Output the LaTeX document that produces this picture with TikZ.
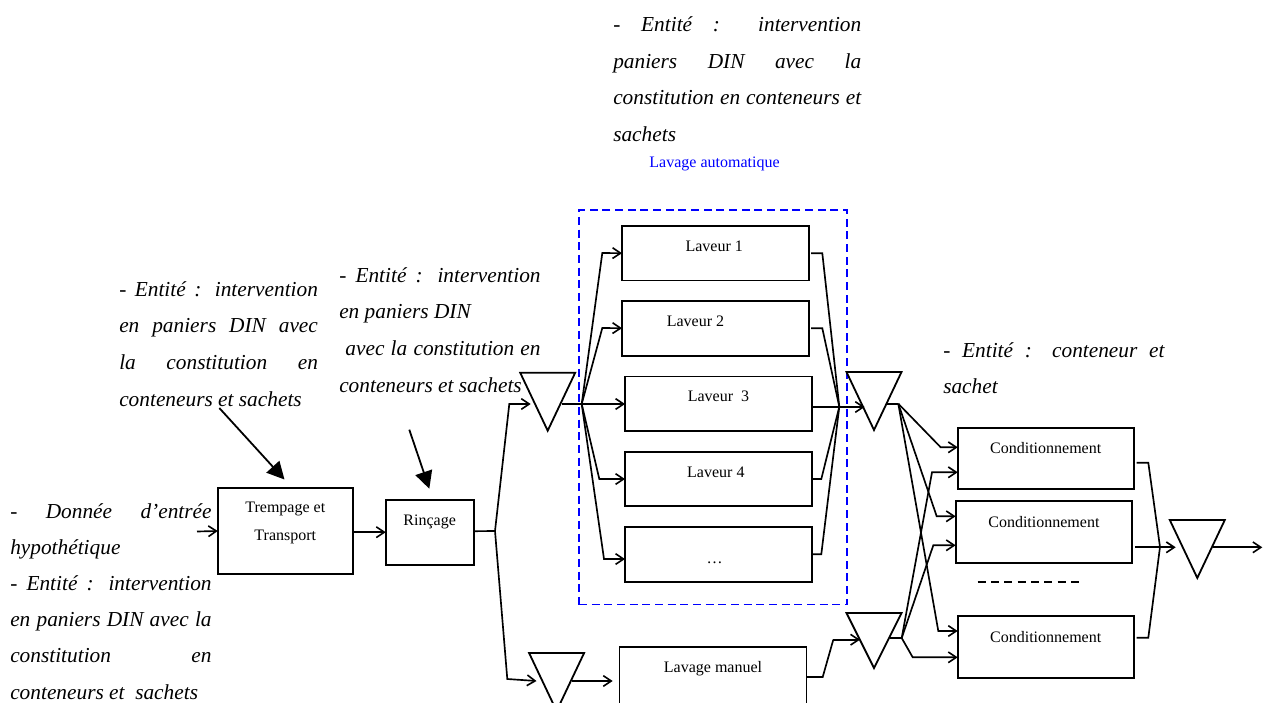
\documentclass[tikz,border=0pt]{standalone}
\usepackage{fontspec}
\setmainfont{Liberation Serif}
\usetikzlibrary{arrows.meta,shapes.geometric}
\tikzset{
  sz/.style 2 args={minimum width=#1*0.75pt, minimum height=#2*0.75pt},
  boxn/.style={draw, line width=1.35pt, inner sep=0pt, outer sep=0pt},
  tri/.style={draw, line width=1.35pt, isosceles triangle, isosceles triangle stretches, shape border rotate=-90, inner sep=0pt, outer sep=0pt, anchor=apex, minimum width=55*0.75pt, minimum height=58*0.75pt},
  lab/.style={font=\fontsize{12}{21}\selectfont, inner sep=0pt, align=center},
  arr/.style={line width=1.25pt, -{Straight Barb[length=6pt,width=8pt,line width=1.2pt]}},
  lin/.style={line width=1.25pt},
  bigarr/.style={line width=1.35pt, -{Triangle[length=13pt,width=13pt]}},
  entite/.style={font=\fontsize{16}{27.5}\selectfont\itshape, inner sep=0pt, anchor=north west, align=left}
}
\newcommand\jl[2]{\makebox[#1][s]{#2}}
\begin{document}
\begin{tikzpicture}[x=0.75pt,y=-0.75pt]
\useasboundingbox (0,0) rectangle (1264,703);
\clip (0,0) rectangle (1264,703);
\fill[white] (0,0) rectangle (1264,703);

% texts
\node[entite] (tA) at (613,16.5) {\jl{186pt}{- Entité : intervention}\\\jl{186pt}{paniers DIN avec la}\\\jl{186pt}{constitution en conteneurs et}\\sachets};
\node[lab, text=blue] (tAuto) at (714.5,164) {Lavage automatique};
\node[entite] (tB) at (119,281) {\jl{149pt}{- Entité : intervention}\\\jl{149pt}{en paniers DIN avec}\\\jl{149pt}{la constitution en}\\conteneurs et sachets};
\node[entite] (tC) at (339,267) {\jl{151pt}{- Entité : intervention}\\en paniers DIN\\\jl{151pt}{\ avec la constitution en}\\conteneurs et sachets};
\node[entite, font=\fontsize{16}{27.15}\selectfont\itshape] (tD) at (10,503) {\jl{151pt}{- Donnée d’entrée}\\hypothétique\\\jl{151pt}{- Entité : intervention}\\\jl{151pt}{en paniers DIN avec la}\\\jl{151pt}{constitution en}\\conteneurs et\ \ sachets};
\node[entite] (tE) at (943,342) {\jl{166pt}{- Entité : conteneur et}\\sachet};

% group frame
\node[draw=blue, dashed, line width=1.35pt, dash pattern=on 6pt off 3.5pt, inner sep=0pt, outer sep=0pt, sz={268}{394.5}] (auto) at (713,407.3) {};

% boxes
\node[boxn, sz={135}{85.5}, label={[lab,yshift=6pt]center:Trempage et\\Transport}] (trem) at (285.3,531) {};
\node[boxn, sz={88}{65}, label={[lab,yshift=7.5pt]center:Rinçage}] (rinc) at (429.7,532.2) {};
\node[boxn, sz={187}{54.5}, label={[lab,xshift=-1pt,yshift=5.5pt]center:Laveur 1}] (lav1) at (715.5,253.2) {};
\node[boxn, sz={187}{55}, label={[lab,xshift=-15pt,yshift=5pt]center:Laveur 2}] (lav2) at (715.5,328.2) {};
\node[boxn, sz={187}{54.5}, label={[lab,yshift=5.5pt]center:Laveur\ \ 3}] (lav3) at (718.5,403.8) {};
\node[boxn, sz={187}{54.5}, label={[lab,xshift=-2pt,yshift=5pt]center:Laveur 4}] (lav4) at (718.5,479) {};
\node[boxn, sz={187}{55}, label={[lab,xshift=-3pt,yshift=-6.5pt]center:…}] (lav5) at (718.5,554.2) {};
\node[boxn, sz={187}{60}, label={[lab,yshift=6pt]center:Lavage manuel}] (lavm) at (713,676.7) {};
\node[boxn, sz={176}{61.5}, label={[lab,yshift=7.5pt]center:Conditionnement}] (c1) at (1045.7,458.5) {};
\node[boxn, sz={176.5}{61.7}, label={[lab,yshift=7.5pt]center:Conditionnement}] (c2) at (1043.9,532.2) {};
\node[boxn, sz={176}{61.7}, label={[lab,yshift=7.5pt]center:Conditionnement}] (c3) at (1045.7,646.8) {};

% triangles
\node[tri] (t1) at (547.7,430.7) {};
\node[tri] (t2) at (874,430) {};
\node[tri, minimum height=55*0.75pt] (t3) at (874,668) {};
\node[tri] (t4) at (1197.3,578) {};
\node[tri] (t5) at (556.6,711) {};

% junctions
\coordinate (inS) at (197,531.5);
\coordinate (jr) at (495,531);
\coordinate (t1i) at (530.7,404);
\coordinate (t1o) at (561.7,404);
\coordinate (j1) at (581.7,404);
\coordinate (t5i) at (536.5,681);
\coordinate (t5o) at (571.7,681);
\coordinate (jm) at (839.3,406.7);
\coordinate (t2i) at (864.7,407);
\coordinate (t2o) at (887.3,403.7);
\coordinate (j2) at (898.3,403.7);
\coordinate (t3i) at (860,639.7);
\coordinate (t3o) at (890,638);
\coordinate (j3) at (901.7,638);
\coordinate (jc) at (1160,547);
\coordinate (t4i) at (1175.7,547.3);
\coordinate (t4o) at (1213.3,547.3);
\coordinate (outE) at (1262.3,547.3);
\coordinate (bigA) at (219.3,408);
\coordinate (bigB) at (409.3,429.7);
\coordinate (dashA) at (977.7,582);
\coordinate (dashB) at (1084,582);

% connectors
\draw[arr] (inS) -- (trem.west);
\draw[arr] (trem.east |- rinc.west) -- (rinc.west);
\draw[lin] (rinc.east) ++(0,-1) -- (jr);
\draw[arr] (jr) -- (509.3,404) -- (t1i);
\draw[arr] (jr) -- (507.3,679) -- (t5i);
\draw[arr] (t5o) -- (612.7,681);
\draw[bigarr] (bigA) -- (284.5,479.5);
\draw[bigarr] (bigB) -- (429.3,488.7);

\draw[lin] (t1o) -- (j1);
\draw[arr] (j1) -- (lav3.west |- j1);
\draw[arr] (j1) -- (602.3,253) -- (lav1.west);
\draw[arr] (j1) -- (602.3,328) -- (lav2.west);
\draw[arr] (j1) -- (599.3,479) -- (lav4.west);
\draw[arr] (j1) -- (604,559) -- (lav5.west |- 604,559);

\draw[lin] ([xshift=1.5pt]lav1.east) -- (822.3,253.2) -- (jm);
\draw[lin] ([xshift=1.5pt]lav2.east) -- (822.3,328.2) -- (jm);
\draw[arr] (lav3.east |- t2i) -- (t2i);
\draw[lin] (lav4.east) -- (821.3,479) -- (jm);
\draw[lin] (lav5.east) -- (821.3,554.2) -- (jm);

\draw[lin] (t2o) -- (j2);
\draw[arr] (j2) -- (940.7,447.3) -- (c1.west |- 940.7,447.3);
\draw[arr] (j2) -- (936.7,516.3) -- (c2.west |- 936.7,516.3);
\draw[arr] (j2) -- (938.3,631) -- (c3.west |- 938.3,631);

\draw[lin] (lavm.east |- 806,677) -- (822.7,677) -- (833.3,639.7);
\draw[arr] (833.3,639.7) -- (t3i);
\draw[lin] (t3o) -- (j3);
\draw[arr] (j3) -- (932,472.3) -- (c1.west |- 932,472.3);
\draw[arr] (j3) -- (933.3,545.3) -- (c2.west |- 933.3,545.3);
\draw[arr] (j3) -- (912.7,657.3) -- (c3.west |- 912.7,657.3);

\draw[lin] ([xshift=2.2pt]c1.east |- 1136,462.7) -- (1148.3,462.7) -- (jc);
\draw[lin] ([xshift=2.2pt]c3.east |- 1136,637.7) -- (1148.3,637.7) -- (jc);
\draw[arr] ([xshift=2.2pt]c2.east |- t4i) -- (t4i);
\draw[arr] (t4o) -- (outE);

\draw[line width=1.35pt, dash pattern=on 6pt off 4pt] (dashA) -- (dashB);
\end{tikzpicture}
\end{document}
